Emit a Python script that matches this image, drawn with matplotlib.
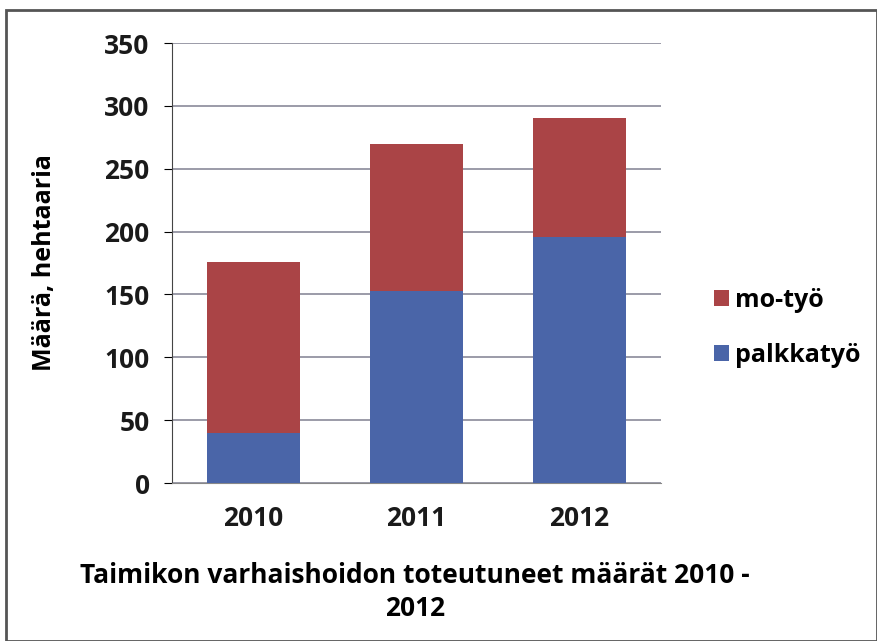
import matplotlib.pyplot as plt
from matplotlib.patches import Rectangle

years = ['2010', '2011', '2012']
palkkatyo = [40, 153, 196]
mo_tyo = [136, 117, 94]

blue = '#4a65a8'
red = '#aa4446'

plt.rcParams['font.family'] = ['Open Sans', 'DejaVu Sans']

fig = plt.figure(figsize=(8.77, 6.41), dpi=100)
W, H = 877, 641
ax = fig.add_axes([172 / W, 1 - 483 / H, (661 - 172) / W, (483 - 43) / H])

x = range(len(years))
ax.bar(x, palkkatyo, width=0.57, color=blue, label='palkkatyö', zorder=3)
ax.bar(x, mo_tyo, width=0.57, bottom=palkkatyo, color=red, label='mo-työ', zorder=3)

ax.set_xlim(-0.5, 2.5)
ax.set_ylim(0, 350)
ax.set_yticks(range(0, 351, 50))
ax.set_xticks(list(x))
ax.set_xticklabels(years)
ax.yaxis.grid(True, color='#8a8a9a', linewidth=1.2, zorder=0)
for s in ['top', 'right']:
    ax.spines[s].set_visible(False)
ax.spines['left'].set_color('#444444')
ax.spines['bottom'].set_color('#888888')
ax.tick_params(axis='y', length=6, direction='out', labelsize=19, pad=10)
ax.tick_params(axis='x', length=0, labelsize=19, pad=16)
for t in ax.get_yticklabels() + ax.get_xticklabels():
    t.set_fontweight('bold')
    t.set_color('#1a1a1a')

ax.set_ylabel('Määrä, hehtaaria', fontsize=18, fontweight='bold')
ax.yaxis.set_label_coords((57 - 172) / 489, 0.5)

handles, labels = ax.get_legend_handles_labels()
fig.legend(handles[::-1], labels[::-1], loc='center left', bbox_to_anchor=(704 / W, 1 - 328 / H),
           frameon=False, handlelength=0.6, handleheight=0.6, borderaxespad=0,
           handletextpad=0.25, labelspacing=1.2, prop={'weight': 'bold', 'size': 18})

fig.text(415 / W, 1 - 592 / H, 'Taimikon varhaishoidon toteutuneet määrät 2010 -\n2012',
         ha='center', va='center', fontsize=19, fontweight='bold', linespacing=1.3)

fig.patches.append(Rectangle((6 / W, 0), 1 - 6 / W, 1 - 10 / H, transform=fig.transFigure,
                             fill=False, edgecolor='#555555', linewidth=2))

fig.savefig('out.png', dpi=100)
